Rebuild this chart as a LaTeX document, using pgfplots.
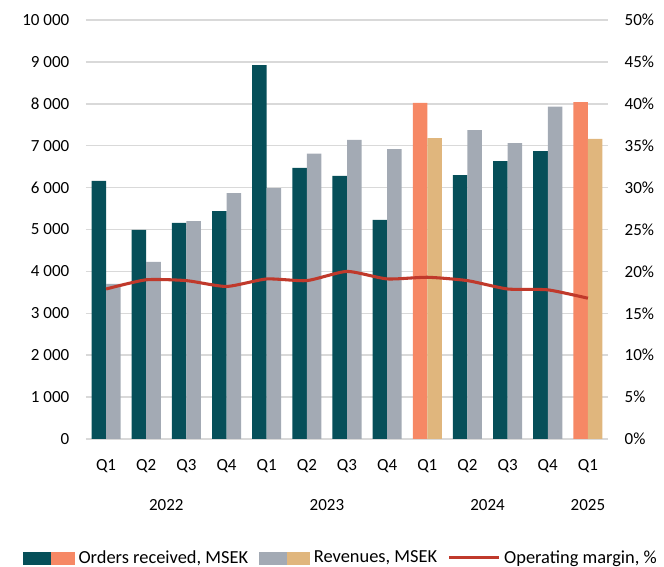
\documentclass[border=0pt]{standalone}
\usepackage{pgfplots}
\pgfplotsset{compat=1.18}
\usepackage{pgfplotstable}
\usepackage{fontspec}
\setmainfont{Carlito}
\definecolor{cteal}{HTML}{064F59}
\definecolor{csalmon}{HTML}{F68865}
\definecolor{cgrey}{HTML}{A3AAB4}
\definecolor{ctan}{HTML}{E0B67D}
\definecolor{cred}{HTML}{C0392B}
\definecolor{cgrid}{HTML}{D9D9D9}

\pgfplotstableread{
x orders revenue margin
0 6160 3700 17.9
1 4990 4230 19.0
2 5160 5200 18.9
3 5440 5870 18.2
4 8920 5990 19.1
5 6470 6810 18.9
6 6280 7140 20.0
7 5230 6920 19.1
8 8020 7180 19.3
9 6300 7370 18.9
10 6630 7060 17.9
11 6870 7930 17.8
12 8040 7160 16.8
}\datatable

\pgfplotstableread{
x orders revenue
0 6160 3700
1 4990 4230
2 5160 5200
3 5440 5870
4 8920 5990
5 6470 6810
6 6280 7140
7 5230 6920
9 6300 7370
10 6630 7060
11 6870 7930
}\normaltable

\pgfplotstableread{
x orders revenue
8 8020 7180
12 8040 7160
}\hightable

\begin{document}
\begin{tikzpicture}[font=\fontsize{12.75pt}{15pt}\selectfont]
\path[use as bounding box] (0,0) rectangle (498pt,425.25pt);
\begin{axis}[
  at={(64.5pt,96pt)}, anchor=south west,
  scale only axis, width=391.5pt, height=314.25pt,
  xmin=-0.5, xmax=12.5, ymin=0, ymax=10000,
  ytick={0,1000,...,10000},
  xtick={0,...,12},
  xticklabels={Q1,Q2,Q3,Q4,Q1,Q2,Q3,Q4,Q1,Q2,Q3,Q4,Q1},
  extra x ticks={1.5,5.5,9.5,12},
  extra x tick labels={2022,2023,2024,2025},
  extra x tick style={grid=none, major tick length=0pt,
     xticklabel style={yshift=-30pt}},
  xticklabel style={yshift=-11.5pt},
  yticklabel style={xshift=-9pt},
  scaled ticks=false,
  /pgf/number format/assume math mode=true,
  /pgf/number format/1000 sep={\ },
  ymajorgrids, grid style={cgrid, line width=1.1pt},
  axis line style={draw=none},
  major tick length=0pt,
  tick style={draw=none},
  clip=false,
]
\addplot[ybar, bar width=10.9pt, bar shift=-5.45pt, fill=cteal, draw=none] table[x=x,y=orders] {\normaltable};
\addplot[ybar, bar width=10.9pt, bar shift=5.45pt, fill=cgrey, draw=none] table[x=x,y=revenue] {\normaltable};
\addplot[ybar, bar width=10.9pt, bar shift=-5.45pt, fill=csalmon, draw=none] table[x=x,y=orders] {\hightable};
\addplot[ybar, bar width=10.9pt, bar shift=5.45pt, fill=ctan, draw=none] table[x=x,y=revenue] {\hightable};
\end{axis}
\begin{axis}[
  at={(64.5pt,96pt)}, anchor=south west,
  scale only axis, width=391.5pt, height=314.25pt,
  xmin=-0.5, xmax=12.5, ymin=0, ymax=50,
  axis y line*=right, axis x line=none,
  ytick={0,5,...,50},
  yticklabel={\pgfmathprintnumber{\tick}\%},
  yticklabel style={xshift=9pt},
  /pgf/number format/assume math mode=true,
  axis line style={draw=none},
  major tick length=0pt,
  tick style={draw=none},
  legend columns=3,
  legend style={at={(rel axis cs:0.4905,-0.2835)}, anchor=center, draw=none, fill=none,
     font=\fontsize{13.8pt}{16pt}\selectfont,
     /tikz/every even column/.append style={column sep=5pt},
     nodes={inner xsep=3pt, inner ysep=0pt}},
]
\addlegendimage{legend image code/.code={
  \fill[cteal] (0pt,-4.5pt) rectangle (21pt,4.5pt);
  \fill[csalmon] (21pt,-4.5pt) rectangle (38pt,4.5pt);}}
\addlegendentry{Orders received, MSEK}
\addlegendimage{legend image code/.code={
  \fill[cgrey] (0pt,-4.5pt) rectangle (21pt,4.5pt);
  \fill[ctan] (21pt,-4.5pt) rectangle (38pt,4.5pt);}}
\addlegendentry{Revenues, MSEK}
\addplot[cred, line width=2.3pt, smooth, tension=0.35, legend image code/.code={
  \draw[cred, line width=2.3pt] (0pt,0pt) -- (37pt,0pt);}] table[x=x,y=margin] {\datatable};
\addlegendentry{Operating margin, \%}
\end{axis}
\end{tikzpicture}
\end{document}
